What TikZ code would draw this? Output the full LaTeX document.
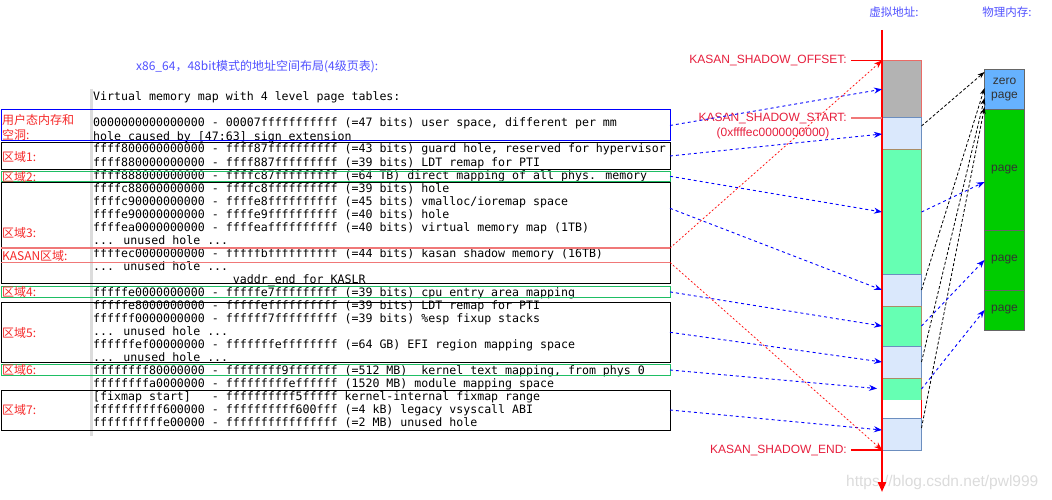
\documentclass[tikz,border=0pt]{standalone}
\usepackage{fontspec}
\usepackage{tikz}
\usetikzlibrary{arrows.meta}
\newfontfamily\monofont{DejaVu Sans Mono}
\newfontfamily\cjkfont{Noto Sans CJK SC}
\newfontfamily\arialfont{Liberation Sans}
\definecolor{titleblue}{RGB}{80,80,255}
\definecolor{labelred}{RGB}{245,40,40}
\definecolor{kasanred}{RGB}{230,30,60}
\definecolor{regiongreen}{RGB}{30,190,100}
\definecolor{kasanpink}{RGB}{240,120,120}
\definecolor{shadowgray}{RGB}{179,179,179}
\definecolor{shadowedge}{RGB}{234,107,102}
\definecolor{mapblue}{RGB}{218,232,252}
\definecolor{mapblueedge}{RGB}{108,142,191}
\definecolor{mapgreen}{RGB}{102,255,179}
\definecolor{mapgreenedge}{RGB}{170,140,100}
\definecolor{zeroblue}{RGB}{102,178,255}
\definecolor{pagegreen}{RGB}{0,204,0}
\definecolor{pageedge}{RGB}{102,102,102}
\definecolor{bargray}{RGB}{220,220,220}
\newcommand\holeline{... unused hole ...}

\begin{document}
\begin{tikzpicture}[x=1pt,y=-1pt,
	maptext/.style={font=\monofont\fontsize{11.6}{13}\selectfont, anchor=base west, inner sep=0},
	zonelabel/.style={font=\cjkfont\fontsize{12}{14}\selectfont, text=labelred, anchor=west, inner sep=0},
	headlabel/.style={font=\cjkfont\fontsize{11.5}{14}\selectfont, text=titleblue, inner sep=0},
	kasanlabel/.style={font=\arialfont\fontsize{12}{14}\selectfont, text=kasanred, inner sep=0},
	regbox/.style={draw, line width=1pt, anchor=north west, minimum width=669, inner sep=0, outer sep=0},
	seg/.style={minimum width=39.5, inner sep=0, outer sep=0, line width=1pt},
	shadowseg/.style={seg, fill=shadowgray, draw=shadowedge},
	lightseg/.style={seg, fill=mapblue, draw=mapblueedge},
	greenseg/.style={seg, fill=mapgreen, draw=mapgreenedge},
	holeseg/.style={seg, fill=white},
	physbox/.style={draw=pageedge, line width=1pt, minimum width=40, inner sep=0, outer sep=0, anchor=north west,
		font=\arialfont\fontsize{12}{14}\selectfont, text=black!80, align=center},
	maparrow/.style={blue, line width=0.9pt, dash pattern=on 3pt off 3pt, -{Stealth[length=8pt,width=6pt]}},
	shadowarrow/.style={red, line width=0.7pt, dash pattern=on 2pt off 2pt, -{Stealth[length=8pt,width=6pt]}},
	zeroarrow/.style={black, line width=0.8pt, dash pattern=on 3pt off 2pt, -{Stealth[length=7pt,width=5pt]}}]
	\useasboundingbox (0,0) rectangle (1052,500);

	\node[headlabel, anchor=west, font=\cjkfont\fontsize{12}{14}\selectfont] (title) at (136,67) {x86\_64，48bit模式的地址空间布局(4级页表):};
	\node[headlabel] (vhead) at (894,12) {虚拟地址:};
	\node[headlabel] (phead) at (1007,12) {物理内存:};

	\draw [bargray, line width=3pt] (91.5,89) -- (91.5,436);
	\node[maptext] (vmhead) at (93,101) {Virtual memory map with 4 level page tables:};
	\foreach \ln [count=\i] in {
		{0000000000000000 - 00007fffffffffff (=47 bits) user space, different per mm},
		{hole caused by [47:63] sign extension},
		{ffff800000000000 - ffff87ffffffffff (=43 bits) guard hole, reserved for hypervisor},
		{ffff880000000000 - ffff887fffffffff (=39 bits) LDT remap for PTI},
		{ffff888000000000 - ffffc87fffffffff (=64 TB) direct mapping of all phys. memory},
		{ffffc88000000000 - ffffc8ffffffffff (=39 bits) hole},
		{ffffc90000000000 - ffffe8ffffffffff (=45 bits) vmalloc/ioremap space},
		{ffffe90000000000 - ffffe9ffffffffff (=40 bits) hole},
		{ffffea0000000000 - ffffeaffffffffff (=40 bits) virtual memory map (1TB)},
		{\holeline},
		{ffffec0000000000 - fffffbffffffffff (=44 bits) kasan shadow memory (16TB)},
		{\holeline},
		{\hphantom{00000000000000000000}vaddr\_end for KASLR},
		{fffffe0000000000 - fffffe7fffffffff (=39 bits) cpu entry area mapping},
		{fffffe8000000000 - fffffeffffffffff (=39 bits) LDT remap for PTI},
		{ffffff0000000000 - ffffff7fffffffff (=39 bits) \%esp fixup stacks},
		{\holeline},
		{ffffffef00000000 - fffffffeffffffff (=64 GB) EFI region mapping space},
		{\holeline},
		{ffffffff80000000 - ffffffff9fffffff (=512 MB)\ \ kernel text mapping, from phys 0},
		{ffffffffa0000000 - fffffffffeffffff (1520 MB) module mapping space},
		{[fixmap start]\ \ \ - ffffffffff5fffff kernel-internal fixmap range},
		{ffffffffff600000 - ffffffffff600fff (=4 kB) legacy vsyscall ABI},
		{ffffffffffe00000 - ffffffffffffffff (=2 MB) unused hole}}
		\node[maptext] (line\i) at (93,114+13*\i) {\ln};

	\node[regbox, draw=blue, minimum height=31] (usr) at (1,110) {};
	\node[regbox, minimum height=26] (r1) at (1,143) {};
	\node[regbox, draw=regiongreen, minimum height=9.5] (r2) at (1,171.5) {};
	\node[regbox, minimum height=101] (r3) at (1,182.3) {};
	\node[regbox, draw=none, minimum height=14.5] (kasan) at (1,248) {};
	\draw [kasanpink, line width=1.5pt] (kasan.north west) -- (kasan.north east) (kasan.south west) -- (kasan.south east);
	\node[regbox, draw=regiongreen, minimum height=10.8] (r4) at (1,286.5) {};
	\node[regbox, minimum height=60] (r5) at (1,302.3) {};
	\node[regbox, draw=regiongreen, minimum height=10.6] (r6) at (1,364.7) {};
	\node[regbox, minimum height=40] (r7) at (1,390) {};

	\node[zonelabel] (usrlab) at (2,120) {用户态内存和};
	\node[zonelabel] (usrlabb) at (2,134.5) {空洞:};
	\node[zonelabel] (r1lab) at (2,157) {区域1:};
	\node[zonelabel] (r2lab) at (2,177) {区域2:};
	\node[zonelabel] (r3lab) at (2,233) {区域3:};
	\node[zonelabel] (kasanlab) at (2,256) {KASAN区域:};
	\node[zonelabel] (r4lab) at (2,291.5) {区域4:};
	\node[zonelabel] (r5lab) at (2,332.5) {区域5:};
	\node[zonelabel] (r6lab) at (2,370) {区域6:};
	\node[zonelabel] (r7lab) at (2,410) {区域7:};

	\foreach \nm/\ytop/\h/\kind in {v1/60.5/57.5/shadowseg, v2/118/32/lightseg, v3/150/124/greenseg,
		v4/274/32/lightseg, v5/306/40/greenseg, v6/346/32/lightseg, v7/378/22/greenseg,
		v8/400/18/holeseg, v9/418/32/lightseg}
		\node[\kind, minimum height=\h, anchor=north west] (\nm) at (882,\ytop) {};
	\draw [red, line width=1pt] (v8.north east) -- (v8.south east);

	\node[physbox, fill=zeroblue, minimum height=40] (p0) at (984.5,70) {zero\\page};
	\node[physbox, fill=pagegreen, minimum height=120] (p1) at (984.5,110) {page};
	\node[physbox, fill=pagegreen, minimum height=60] (p2) at (984.5,230) {page};
	\node[physbox, fill=pagegreen, minimum height=40] (p3) at (984.5,290) {page};

	\node[font=\arialfont\fontsize{15.5}{18}\selectfont, text=black!14, anchor=west, inner sep=0] (mark) at (846,482) {https://blog.csdn.net/pwl999};

	\coordinate (axtop) at (882,30);
	\coordinate (axbot) at (882,492);
	\draw [red, line width=2pt, -{Triangle[length=10pt,width=8pt]}] (axtop) -- (axbot);

	\node[kasanlabel, anchor=east] (offlab) at (847,60.5) {KASAN\_SHADOW\_OFFSET:};
	\draw [red, line width=1.2pt] (offlab.east) ++(4,0) -- (v1.north west);
	\node[kasanlabel, anchor=east] (startlab) at (847,119) {KASAN\_SHADOW\_START:};
	\node[kasanlabel] (startaddr) at (773,133.5) {(0xffffec0000000000)};
	\draw [kasanpink, line width=1.5pt] (startlab.east) ++(4,-1) -- (v2.north west);
	\node[kasanlabel, anchor=east] (endlab) at (847,450) {KASAN\_SHADOW\_END:};
	\draw [red, line width=1.2pt] (endlab.east) ++(4,0) -- (v9.south west);

	\draw [maparrow] (usr.east) -- (v1.west);
	\draw [maparrow] (r1.east) -- (v2.west);
	\draw [maparrow] (r2.east) -- (v3.west);
	\draw [maparrow] ([yshift=-26pt]r3.north east) -- (v4.west);
	\draw [maparrow] (r4.east) -- (v5.west);
	\draw [maparrow] (r5.east) -- (v6.west);
	\draw [maparrow, shorten >=5pt] (r6.east) -- (v7.west);
	\draw [maparrow] (r7.east) -- ([yshift=4pt]v9.west);

	\draw [shadowarrow] (kasan.north east) -- (v1.north west);
	\draw [shadowarrow] (kasan.south east) -- (v9.south west);

	\draw [zeroarrow] ([yshift=8pt]v2.east) -- ([yshift=-2pt]p0.north west);
	\draw [zeroarrow] (v4.east) -- ([yshift=-18pt]p0.north west);
	\draw [zeroarrow] (v6.east) -- ([yshift=-28pt]p0.north west);
	\draw [zeroarrow] ([yshift=6pt]v9.east) -- ([yshift=-37pt]p0.north west);

	\draw [maparrow] (v3.east) -- ([yshift=-12pt]p1.west);
	\draw [maparrow] (v5.east) -- (p2.west);
	\draw [maparrow] (v7.east) -- (p3.west);
\end{tikzpicture}
\end{document}
